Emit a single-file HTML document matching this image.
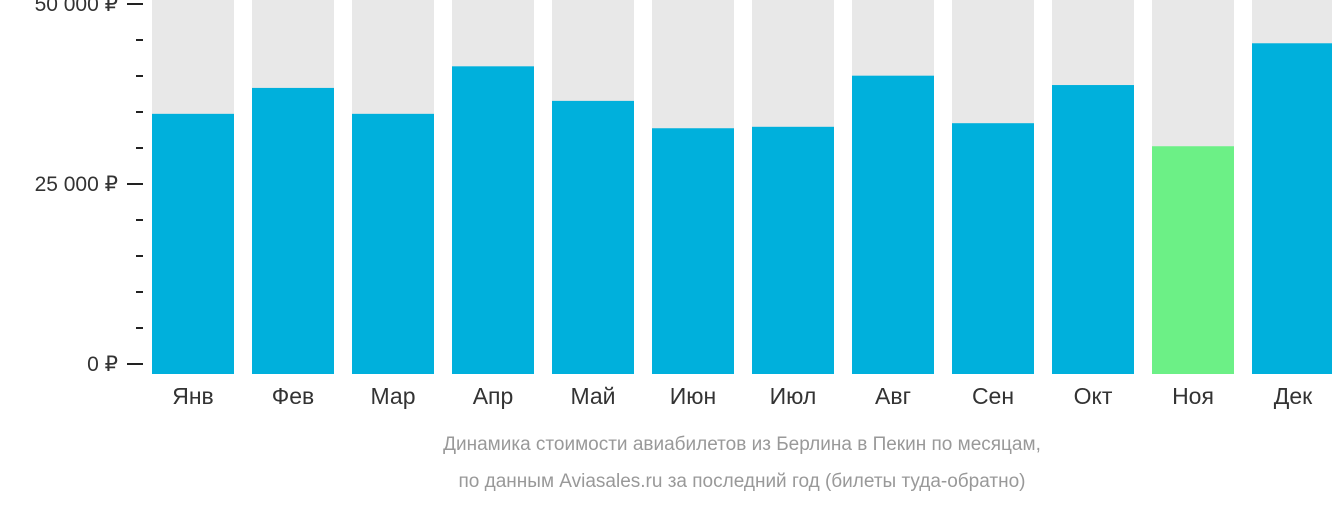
<!DOCTYPE html>
<html><head><meta charset="utf-8"><style>
body{margin:0;background:#fff;width:1332px;height:502px;overflow:hidden;font-family:"Liberation Sans","DejaVu Sans",sans-serif}
</style></head><body>
<svg width="1332" height="502" id="c"></svg>
<script>
const months=["Янв","Фев","Мар","Апр","Май","Июн","Июл","Авг","Сен","Окт","Ноя","Дек"];
const prices=[35300,38900,35300,41900,37100,33300,33500,40600,34000,39300,30800,45100];
const majorTicks=[0,25000,50000];
const tickLabels=["0 ₽","25 000 ₽","50 000 ₽"];
const minorTicks=[5000,10000,15000,20000,30000,35000,40000,45000];
const ns="http://www.w3.org/2000/svg",svg=document.getElementById("c");
const y=v=>368-v*0.0072, x=i=>152+i*100, bw=82;
function mk(t,a,txt){const e=document.createElementNS(ns,t);for(const k in a)e.setAttribute(k,a[k]);if(txt!=null)e.textContent=txt;svg.appendChild(e);return e;}
const minP=Math.min(...prices);
months.forEach((m,i)=>{
 let g=mk("rect",{x:x(i),y:0,width:bw,height:374,fill:"#e8e8e8"});
 
 
 let b=mk("rect",{x:x(i),y:y(prices[i]),width:bw,height:374-y(prices[i]),fill:prices[i]===minP?"#6cf086":"#00b0dc"});
 
 
 let t=mk("text",{x:x(i)+bw/2,y:404,"text-anchor":"middle","font-size":"23",fill:"#333"},m);
 
 
});
majorTicks.forEach((v,i)=>{
 let l=mk("line",{x1:127,x2:143,y1:y(v)-4,y2:y(v)-4,stroke:"#222","stroke-width":2});
 
 
 let t=mk("text",{x:118,y:y(v)+3,"text-anchor":"end","font-size":"21",fill:"#333"},tickLabels[i]);
 
 
});
minorTicks.forEach(v=>{
 let l=mk("line",{x1:136,x2:143,y1:y(v)-4,y2:y(v)-4,stroke:"#222","stroke-width":2});
 
 
});
let c1=mk("text",{x:742,y:450,"text-anchor":"middle","font-size":"19",fill:"#999"},"Динамика стоимости авиабилетов из Берлина в Пекин по месяцам,");


let c2=mk("text",{x:742,y:487,"text-anchor":"middle","font-size":"19",fill:"#999"},"по данным Aviasales.ru за последний год (билеты туда-обратно)");


</script>
</body></html>
